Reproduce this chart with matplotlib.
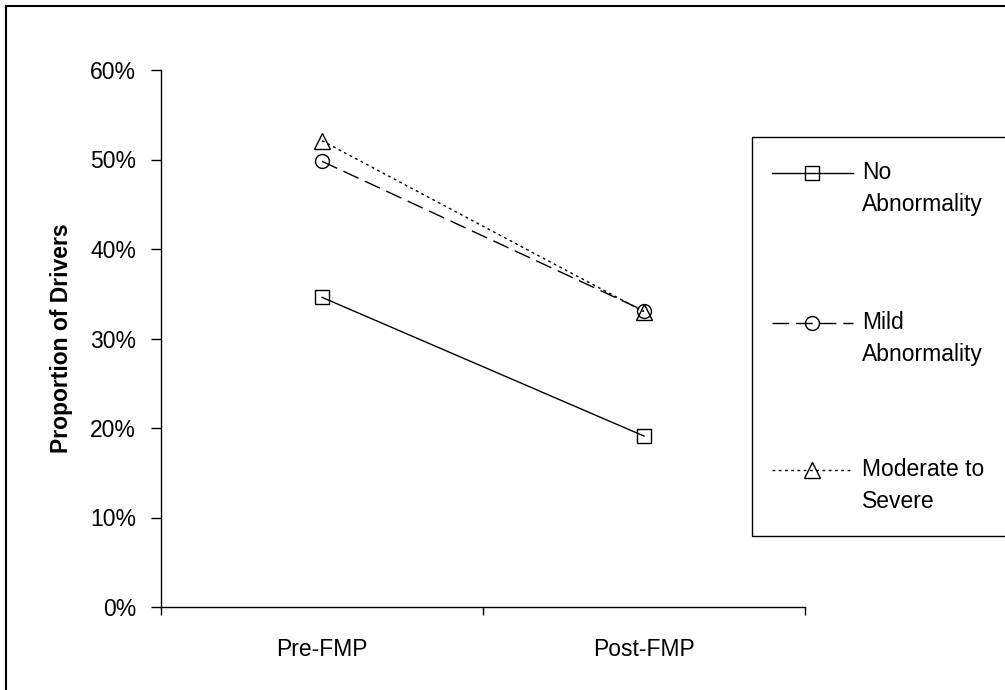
import matplotlib
matplotlib.use("Agg")
import matplotlib.pyplot as plt
from matplotlib.lines import Line2D
from matplotlib.patches import Rectangle
from matplotlib.ticker import FixedLocator, FuncFormatter

plt.rcParams['font.family'] = ['Liberation Sans', 'DejaVu Sans']

# Data
periods = ["Pre-FMP", "Post-FMP"]
no_abnormality = [34.6, 19.1]
mild_abnormality = [49.8, 33.1]
moderate_severe = [52.1, 33.0]
series_labels = ["No\nAbnormality", "Mild\nAbnormality", "Moderate to\nSevere"]
y_ticks = [0, 10, 20, 30, 40, 50, 60]

FS = 16.5

W, H = 1005, 690
fig = plt.figure(figsize=(W / 100, H / 100), dpi=100)
fig.patch.set_facecolor("white")


def fx(px):
    return px / W


def fy(py):
    return 1 - py / H


ax = fig.add_axes([fx(161), fy(607), fx(805) - fx(161), fy(70) - fy(607)])

styles = [
    dict(ls="-", marker="s", ms=10),
    dict(ls=(0, (12, 5)), marker="o", ms=10),
    dict(ls=(0, (2, 2.5)), marker="^", ms=11),
]
xs = list(range(len(periods)))
for vals, st in zip([no_abnormality, mild_abnormality, moderate_severe], styles):
    ax.plot(xs, vals, color="black", lw=1.0, linestyle=st["ls"],
            marker=st["marker"], ms=st["ms"], mfc="none", mec="black", mew=1.0)

ax.set_xlim(-0.5, 1.5)
ax.set_ylim(0, 60)

# Category boundaries as major ticks, labels centred under each category
ax.xaxis.set_major_locator(FixedLocator([-0.5, 0.5, 1.5]))
ax.xaxis.set_minor_locator(FixedLocator(xs))
ax.xaxis.set_major_formatter(FuncFormatter(lambda v, p: ""))
ax.xaxis.set_minor_formatter(FuncFormatter(lambda v, p: periods[int(round(v))]))
ax.tick_params(axis="x", which="major", direction="out", length=6, width=1, color="black")
ax.tick_params(axis="x", which="minor", length=0, pad=22, labelsize=FS)

ax.set_yticks(y_ticks)
ax.set_yticklabels([f"{t}%" for t in y_ticks])
ax.tick_params(axis="y", direction="out", length=7, width=1, color="black",
               pad=11, labelsize=FS)

for s in ["top", "right"]:
    ax.spines[s].set_visible(False)
for s in ["left", "bottom"]:
    ax.spines[s].set_linewidth(1.0)
    ax.spines[s].set_color("black")

ax.set_ylabel("Proportion of Drivers", fontsize=FS, fontweight="bold", labelpad=12)

# Legend panel
fig.add_artist(Rectangle((fx(752), fy(536)), fx(1015) - fx(752), fy(137) - fy(536),
                         transform=fig.transFigure, fill=False, ec="black", lw=1.0))
entry_y = [173, 323, 470]
for yy, lab, st in zip(entry_y, series_labels, styles):
    fig.add_artist(Line2D([fx(772), fx(853)], [fy(yy), fy(yy)], transform=fig.transFigure,
                          color="black", lw=1.0, linestyle=st["ls"]))
    fig.add_artist(Line2D([fx(812)], [fy(yy)], transform=fig.transFigure,
                          marker=st["marker"], ms=st["ms"], mfc="none", mec="black",
                          mew=1.0, ls="none"))
    fig.text(fx(862), fy(yy - 12), lab, fontsize=FS, va="top", ha="left",
             linespacing=1.5)

# Outer frame
fig.add_artist(Rectangle((fx(6), fy(700)), fx(1010), fy(6) - fy(700),
                         transform=fig.transFigure, fill=False, ec="black", lw=1.5))

fig.savefig("out.png", dpi=100)
